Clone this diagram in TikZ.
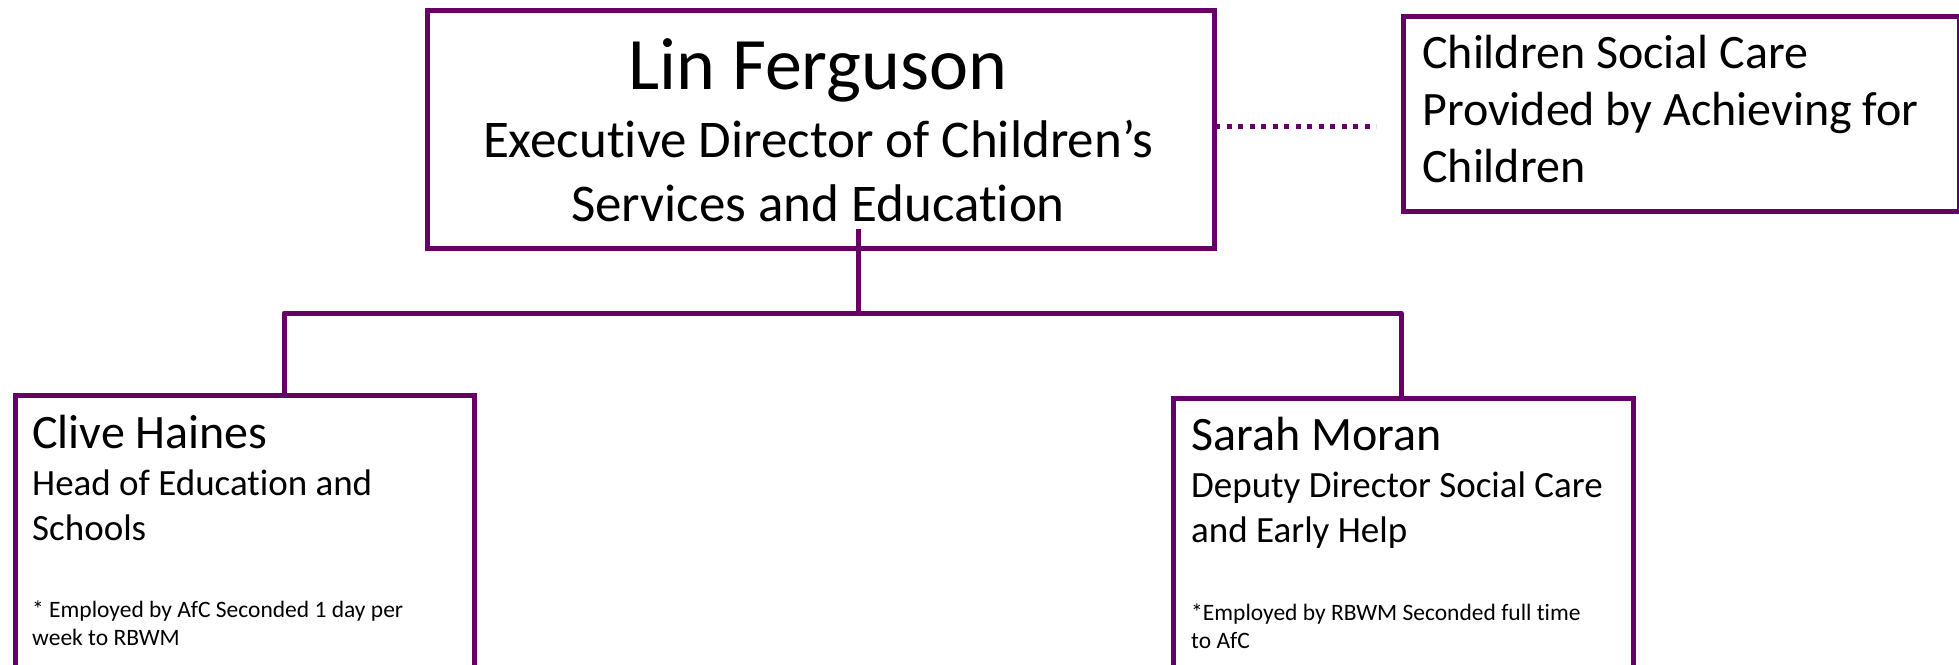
\documentclass[tikz,border=0pt]{standalone}
\usepackage{fontspec}
\setmainfont{Carlito}[Ligatures=NoCommon]
\definecolor{orgpurple}{RGB}{102,0,102}
\begin{document}
\begin{tikzpicture}[x=1pt,y=-1pt,
  box/.style={draw=orgpurple, line width=5pt, fill=white, inner sep=0pt, anchor=north west},
  link/.style={draw=orgpurple, line width=5pt},
  dotlink/.style={draw=orgpurple, line width=5pt, dash pattern=on 5pt off 6.5pt},
  txt/.style={inner sep=0pt, anchor=base west, text=black},
  ctxt/.style={inner sep=0pt, anchor=base, text=black},
  fname/.style={font=\fontsize{74}{80}\selectfont},
  ftitle/.style={font=\fontsize{53}{60}\selectfont},
  fside/.style={font=\fontsize{48}{52}\selectfont},
  fsub/.style={font=\fontsize{48}{52}\selectfont},
  fsubt/.style={font=\fontsize{37}{44}\selectfont},
  fnote/.style={font=\fontsize{23.5}{28}\selectfont}]
\useasboundingbox (0,0) rectangle (1959,664);
% boxes
\node[box, minimum width=787pt, minimum height=238pt] (top) at (425,8) {};
\node[box, minimum width=556pt, minimum height=195pt] (side) at (1401,14) {};
\node[box, minimum width=459pt, minimum height=320pt] (left) at (13,393) {};
\node[box, minimum width=460pt, minimum height=320pt] (right) at (1171,396) {};
% connectors
\coordinate (stem) at (858,229);
\coordinate (bus) at (858,313);
\coordinate (lj) at (284,393);
\coordinate (rj) at (1401,396);
\draw[link] (stem) -- (bus);
\draw[link, line join=round] (lj) |- (bus) -| (rj);
\coordinate (d1) at (1215,126);
\coordinate (d2) at (1376,126);
\draw[dotlink] (d1) -- (d2);
% texts top box
\node[ctxt, fname] (tname) at (818,89) {Lin Ferguson};
\node[ctxt, ftitle] (ttitle1) at (818,157) {Executive Director of Children’s};
\node[ctxt, ftitle] (ttitle2) at (818,221) {Services and Education};
% side box
\node[txt, fside] (s1) at (1422,68) {Children Social Care};
\node[txt, fside] (s2) at (1422,125) {Provided by Achieving for};
\node[txt, fside] (s3) at (1422,182) {Children};
% left box
\node[txt, fsub] (lname) at (32,448) {Clive Haines};
\node[txt, fsubt] (lt1) at (32,495) {Head of Education and};
\node[txt, fsubt] (lt2) at (32,540) {Schools};
\node[txt, fnote] (ln1) at (32,617) {* Employed by AfC Seconded 1 day per};
\node[txt, fnote] (ln2) at (32,645) {week to RBWM};
% right box
\node[txt, fsub] (rname) at (1191,450) {Sarah Moran};
\node[txt, fsubt] (rt1) at (1191,497) {Deputy Director Social Care};
\node[txt, fsubt] (rt2) at (1191,542) {and Early Help};
\node[txt, fnote] (rn1) at (1191,620) {*Employed by RBWM Seconded full time};
\node[txt, fnote] (rn2) at (1191,648) {to AfC};
\end{tikzpicture}
\end{document}
